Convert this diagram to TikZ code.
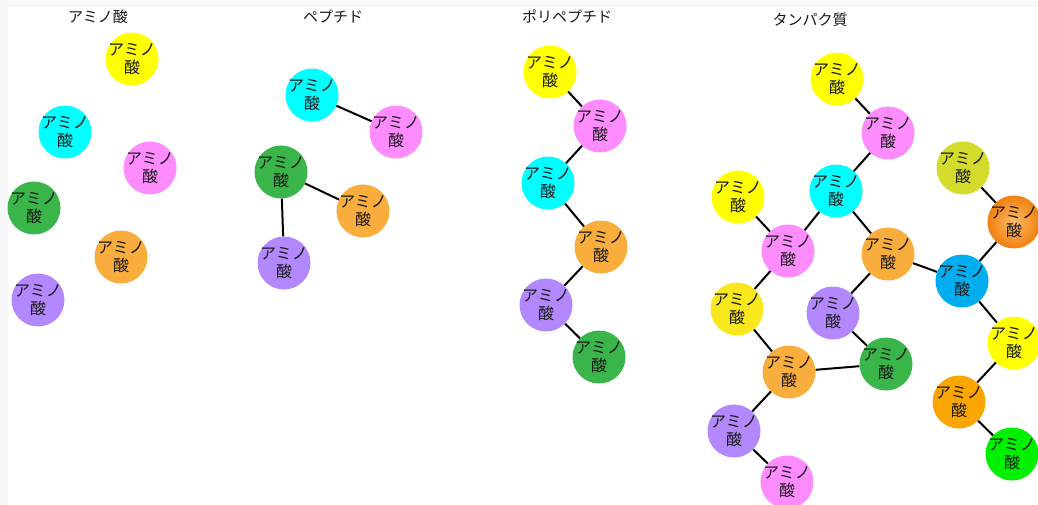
\documentclass[tikz,border=0pt]{standalone}
\usepackage{fontspec}
\setmainfont{Noto Sans CJK JP}

\definecolor{amYellow}{HTML}{FFFF00}
\definecolor{amYellowB}{HTML}{F8E71C}
\definecolor{amCyan}{HTML}{00FFFF}
\definecolor{amPink}{HTML}{FF8CFF}
\definecolor{amGreen}{HTML}{39B54A}
\definecolor{amOrange}{HTML}{F9AD3C}
\definecolor{amPurple}{HTML}{B388FF}
\definecolor{amOlive}{HTML}{D5DB2A}
\definecolor{amBlue}{HTML}{00AEEF}
\definecolor{amOrangeB}{HTML}{FBA500}
\definecolor{amLime}{HTML}{00F000}
\definecolor{amGlowIn}{HTML}{FDBB6A}
\definecolor{amGlowOut}{HTML}{F0800E}
\definecolor{edgeGray}{HTML}{F8F8F8}

\tikzset{
  amino/.style={circle, minimum size=53pt, inner sep=-2.5pt, align=center,
    font=\fontsize{16}{18}\selectfont, text=black!90, fill=#1},
  aminoglow/.style={circle, minimum size=53pt, inner sep=-2.5pt, align=center,
    font=\fontsize{16}{18}\selectfont, text=black!90,
    inner color=amGlowIn, outer color=amGlowOut},
  title/.style={font=\fontsize{15}{17}\selectfont, text=black!90},
  bond/.style={line width=2pt, black}
}

\newcommand{\am}{アミノ\\酸}

\begin{document}
\begin{tikzpicture}[x=1pt, y=-1pt]
  \useasboundingbox (0,0) rectangle (1038,505);
  \fill[edgeGray] (0,0) rectangle (1038,505);
  \fill[white] (8,7) rectangle (1038,505);

  % amino acids, loose
  \node[title] (t1) at (98,17) {アミノ酸};
  \node[amino=amYellow] (a1) at (132,59) {\am};
  \node[amino=amCyan] (a2) at (65,132) {\am};
  \node[amino=amPink] (a3) at (150,168) {\am};
  \node[amino=amGreen] (a4) at (34,208) {\am};
  \node[amino=amOrange] (a5) at (121,257) {\am};
  \node[amino=amPurple] (a6) at (38,300) {\am};

  % peptides
  \node[title] (t2) at (333,17) {ペプチド};
  \node[amino=amCyan] (p1) at (312,95) {\am};
  \node[amino=amPink] (p2) at (396,132) {\am};
  \node[amino=amGreen] (p3) at (281,172) {\am};
  \node[amino=amOrange] (p4) at (363,211) {\am};
  \node[amino=amPurple] (p5) at (284,263) {\am};
  \draw[bond] (p1) -- (p2);
  \draw[bond] (p3) -- (p4);
  \draw[bond] (p3) -- (p5);

  % polypeptide chain
  \node[title] (t3) at (567,16) {ポリペプチド};
  \node[amino=amYellow] (c1) at (550,72) {\am};
  \node[amino=amPink] (c2) at (600,126) {\am};
  \node[amino=amCyan] (c3) at (548,183) {\am};
  \node[amino=amOrange] (c4) at (601,247) {\am};
  \node[amino=amPurple] (c5) at (546,305) {\am};
  \node[amino=amGreen] (c6) at (599,357) {\am};
  \foreach \i/\j in {c1/c2, c2/c3, c3/c4, c4/c5, c5/c6}
    \draw[bond] (\i) -- (\j);

  % protein
  \node[title] (t4) at (810,20) {タンパク質};
  \node[amino=amYellow] (q1) at (837,79) {\am};
  \node[amino=amPink] (q2) at (888,133) {\am};
  \node[amino=amCyan] (q3) at (836,191) {\am};
  \node[amino=amYellow] (q4) at (738,197) {\am};
  \node[amino=amPink] (q5) at (788,251) {\am};
  \node[amino=amOrange] (q6) at (888,254) {\am};
  \node[amino=amPurple] (q7) at (833,313) {\am};
  \node[amino=amYellowB] (q8) at (737,309) {\am};
  \node[amino=amOrange] (q9) at (789,372) {\am};
  \node[amino=amGreen] (q10) at (886,364) {\am};
  \node[amino=amPurple] (q11) at (734,431) {\am};
  \node[amino=amPink] (q12) at (787,482) {\am};
  \node[amino=amOlive] (q13) at (963,168) {\am};
  \node[aminoglow] (q14) at (1014,222) {\am};
  \node[amino=amBlue] (q15) at (962,281) {\am};
  \node[amino=amYellow] (q16) at (1014,343) {\am};
  \node[amino=amOrangeB] (q17) at (959,402) {\am};
  \node[amino=amLime] (q18) at (1012,454) {\am};
  \foreach \i/\j in {q1/q2, q2/q3, q3/q5, q3/q6, q4/q5, q5/q8, q8/q9,
      q9/q10, q6/q7, q7/q10, q6/q15, q9/q11, q11/q12,
      q13/q14, q14/q15, q15/q16, q16/q17, q17/q18}
    \draw[bond] (\i) -- (\j);
\end{tikzpicture}
\end{document}
